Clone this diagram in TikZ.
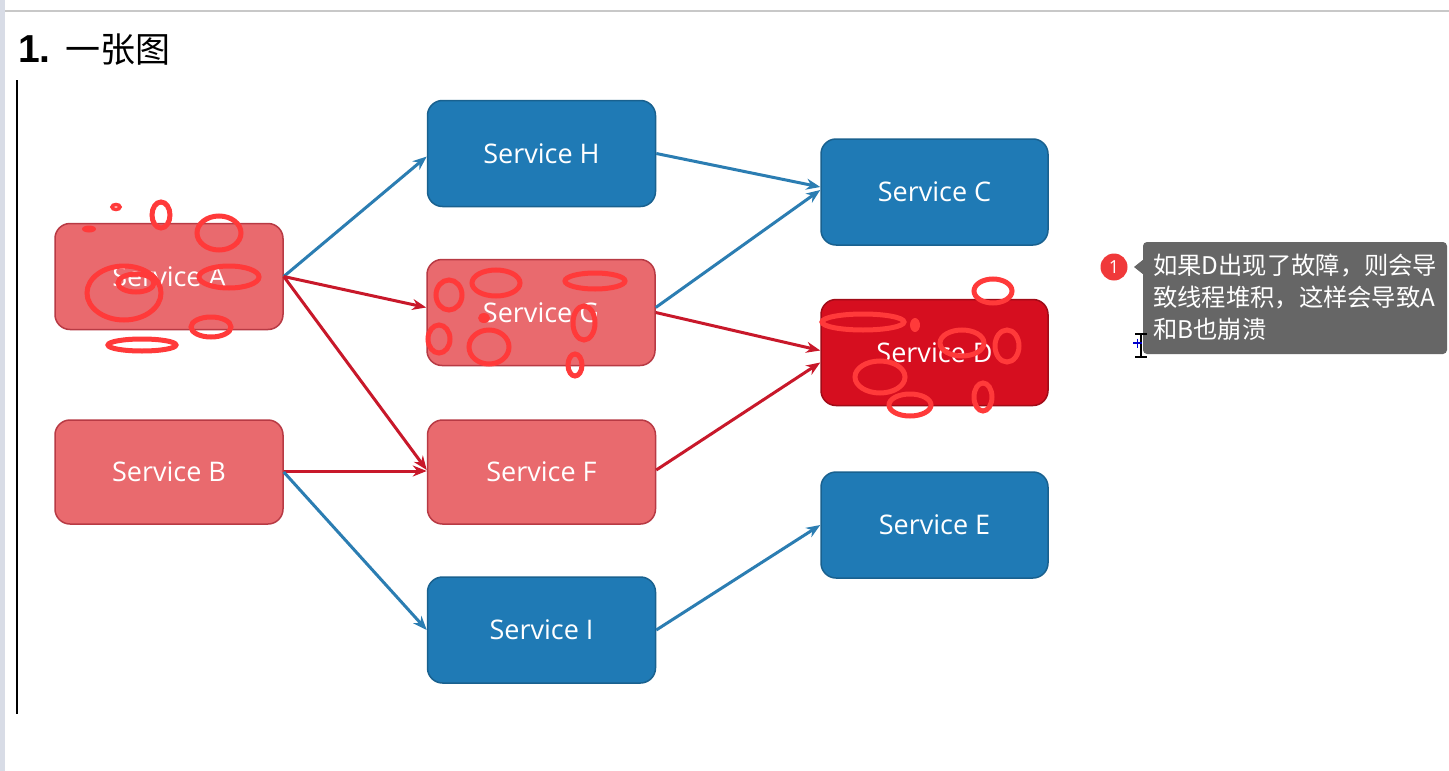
\documentclass[tikz,border=0pt]{standalone}
\usepackage{fontspec}
\setmainfont{Open Sans}
\newfontfamily\cjkfont{Noto Sans CJK SC}
\newfontfamily\boldsans{Liberation Sans}
\usetikzlibrary{arrows.meta,calc}
\definecolor{redfill}{HTML}{E96A6E}
\definecolor{reddraw}{HTML}{B83A44}
\definecolor{bluefill}{HTML}{1F7AB5}
\definecolor{bluedraw}{HTML}{19618F}
\definecolor{dfill}{HTML}{D60E1F}
\definecolor{ddraw}{HTML}{A10B17}
\definecolor{bluearrow}{HTML}{2B7DB2}
\definecolor{redarrow}{HTML}{C8182A}
\definecolor{scribble}{HTML}{FF3A3A}
\definecolor{tipgray}{HTML}{666666}
\definecolor{badge}{HTML}{F0393A}
\definecolor{stripgray}{HTML}{D8DCE6}
\definecolor{linegray}{HTML}{C8C8C8}
\begin{document}
\begin{tikzpicture}[x=1pt,y=-1pt,
  svc/.style={rectangle, rounded corners=15pt, line width=1.5pt, minimum width=228pt, minimum height=106pt, inner sep=0pt, text=white, font=\fontsize{27}{30}\selectfont},
  redsvc/.style={svc, fill=redfill, draw=reddraw},
  bluesvc/.style={svc, fill=bluefill, draw=bluedraw},
  dsvc/.style={svc, fill=dfill, draw=ddraw},
  conn/.style={line width=3pt, -{Stealth[length=14pt,width=11pt]}},
  blueconn/.style={conn, draw=bluearrow, fill=bluearrow},
  redconn/.style={conn, draw=redarrow, fill=redarrow},
  ring/.style={draw=scribble, line width=5pt},
  blob/.style={fill=scribble},
]
\useasboundingbox (0,0) rectangle (1449,771);
\fill[white] (0,0) rectangle (1449,771);
% window chrome
\fill[stripgray] (0,0) rectangle (5,771);
\draw[linegray, line width=1.5pt] (5,11) -- (1449,11);
\draw[black, line width=2.2pt] (17,80) -- (17,714);
% title
\node[anchor=base west, inner sep=0pt] (title) at (18,62) {{\boldsans\bfseries\fontsize{39}{42}\selectfont 1.}\hspace{15pt}{\cjkfont\fontsize{35}{40}\selectfont 一张图}};

% services
\node[redsvc]  (A) at (169,276.5) {Service A};
\node[redsvc, minimum height=104pt]  (B) at (169,472) {Service B};
\node[bluesvc] (H) at (541.5,153.5) {Service H};
\node[redsvc]  (G) at (541,312.5) {Service G};
\node[redsvc, minimum height=104pt]  (F) at (541.5,472) {Service F};
\node[bluesvc] (I) at (541.5,630) {Service I};
\node[bluesvc, minimum width=227pt] (C) at (934.5,192) {Service C};
\node[dsvc, minimum width=227pt]    (D) at (934.5,352.5) {Service D};
\node[bluesvc, minimum width=227pt] (E) at (934.5,525) {Service E};

% connectors
\draw[blueconn] (A.east) -- ([yshift=-3pt]H.west);
\draw[redconn]  (A.east) -- ([yshift=5pt]G.west);
\draw[redconn]  (A.east) -- ([yshift=2pt]F.west);
\draw[redconn]  ([yshift=1pt]B.east) -- ([yshift=1pt]F.west);
\draw[blueconn] (B.east) -- (I.west);
\draw[blueconn] (H.east) -- ([yshift=5pt]C.west);
\draw[blueconn] ([yshift=5pt]G.east) -- ([yshift=2pt]C.west);
\draw[redconn]  (G.east) -- ([yshift=2pt]D.west);
\draw[redconn]  ([yshift=2pt]F.east) -- ([yshift=-10pt]D.west);
\draw[blueconn] (I.east) -- (E.west);

% scribbles around A
\draw[ring, line width=3.5pt] (116,207) ellipse [x radius=4, y radius=2.5];
\draw[ring] (161,215) ellipse [x radius=9, y radius=13];
\draw[ring] (219,233) ellipse [x radius=22, y radius=17];
\fill[blob] (89,229) ellipse [x radius=7, y radius=3.5];
\draw[ring] (124,293) ellipse [x radius=37, y radius=27];
\draw[ring] (136,283) ellipse [x radius=18, y radius=9];
\draw[ring] (229,277) ellipse [x radius=30, y radius=11];
\draw[ring] (211,327) ellipse [x radius=20, y radius=10];
\draw[ring] (142,345) ellipse [x radius=34, y radius=6];
% scribbles around G
\draw[ring] (449,295) ellipse [x radius=13, y radius=15];
\draw[ring] (496,283) ellipse [x radius=24, y radius=13];
\draw[ring] (595,281) ellipse [x radius=30, y radius=8];
\fill[blob] (484,318) ellipse [x radius=6, y radius=5];
\draw[ring] (584,323) ellipse [x radius=11, y radius=17];
\draw[ring] (439,339) ellipse [x radius=11, y radius=14];
\draw[ring] (489,347) ellipse [x radius=20, y radius=17];
\draw[ring] (575,365) ellipse [x radius=7, y radius=11];
% scribbles around D
\draw[ring] (993,291) ellipse [x radius=19, y radius=12];
\draw[ring] (863,322) ellipse [x radius=41, y radius=8];
\fill[blob] (915,325) ellipse [x radius=5, y radius=7];
\draw[ring] (962,343) ellipse [x radius=22, y radius=13];
\draw[ring] (1007,346) ellipse [x radius=12, y radius=16];
\draw[ring] (880,377) ellipse [x radius=25, y radius=16];
\draw[ring] (910,405) ellipse [x radius=21, y radius=11];
\draw[ring] (983,397) ellipse [x radius=9, y radius=14];

% callout
\fill[tipgray, rounded corners=4pt] (1143,242) rectangle (1447,354);
\fill[tipgray] (1144,259) -- (1134,267) -- (1144,275) -- cycle;
\node[circle, fill=badge, minimum size=27pt, inner sep=0pt, text=white, font=\fontsize{18}{18}\selectfont] (badge) at (1114,267) {1};
\node[anchor=north west, inner sep=0pt, align=left, text=white, font=\cjkfont\fontsize{24.3}{32}\selectfont] (note) at (1153,254) {如果D出现了故障，则会导\\致线程堆积，这样会导致A\\和B也崩溃};

% cursor
\draw[black, line width=1.5pt] (1141,334) -- (1141,357);
\draw[black, line width=1.5pt] (1135,334) -- (1147,334);
\draw[black, line width=1.5pt] (1135,357) -- (1147,357);
\draw[blue!80!black, line width=1.8pt] (1133,343) -- (1142,343) (1137.5,338.5) -- (1137.5,347.5);
\end{tikzpicture}
\end{document}
